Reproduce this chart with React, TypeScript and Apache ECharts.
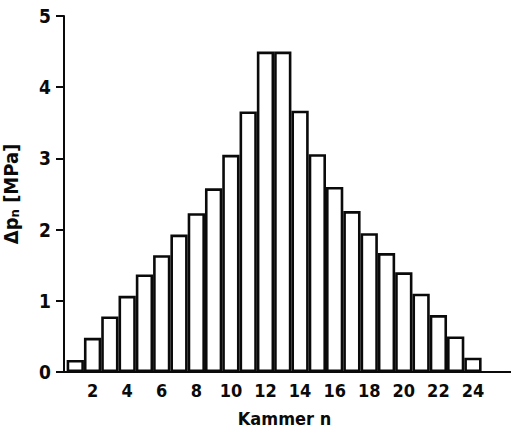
import React, { useEffect, useRef } from "react";
import * as echarts from "echarts";

const chambers = [1, 2, 3, 4, 5, 6, 7, 8, 9, 10, 11, 12, 13, 14, 15, 16, 17, 18, 19, 20, 21, 22, 23, 24];
const pressureDrop = [0.17, 0.48, 0.78, 1.07, 1.37, 1.64, 1.93, 2.23, 2.58, 3.05, 3.66, 4.5, 4.5, 3.67, 3.06, 2.6, 2.26, 1.95, 1.67, 1.4, 1.1, 0.8, 0.5, 0.2];
const yTicks = [0, 1, 2, 3, 4, 5];
const xTickLabels = [2, 4, 6, 8, 10, 12, 14, 16, 18, 20, 22, 24];
const xTitle = "Kammer n";
const yTitle = "{a|Δp}{b|n}{a| [MPa]}";

const FONT = "DejaVu Sans Condensed";
const INK = "#0a0a0a";

export default function App() {
  const ref = useRef<HTMLDivElement>(null);
  useEffect(() => {
    if (!ref.current) return;
    const chart = echarts.init(ref.current, null, { renderer: "svg" });
    chart.setOption({
      animation: false,
      backgroundColor: "#ffffff",
      grid: { left: 58, right: 0, top: 16, bottom: 55, containLabel: false, outerBoundsMode: "none" },
      xAxis: {
        type: "value",
        min: 0,
        max: 26.2,
        interval: 2,
        splitLine: { show: false },
        axisLine: { lineStyle: { color: INK, width: 2 } },
        axisTick: { show: false },
        axisLabel: {
          formatter: (v: number) => (xTickLabels.includes(v) ? String(v) : ""),
          color: INK,
          fontFamily: FONT,
          fontSize: 18,
          fontWeight: "bold",
          margin: 9,
          showMinLabel: true,
          showMaxLabel: true,
        },
        name: xTitle,
        nameLocation: "middle",
        nameGap: 37,
        nameTextStyle: { color: INK, fontFamily: FONT, fontSize: 18, lineHeight: 18, fontWeight: "bold" },
      },
      yAxis: {
        type: "value",
        min: yTicks[0],
        max: yTicks[yTicks.length - 1],
        interval: 1,
        offset: -6,
        splitLine: { show: false },
        axisLine: { show: true, onZero: false, lineStyle: { color: INK, width: 2 } },
        axisTick: { show: true, length: 8, lineStyle: { color: INK, width: 2 } },
        axisLabel: { color: INK, fontFamily: FONT, fontSize: 19, fontWeight: "bold", margin: 13 },
        name: yTitle,
        nameLocation: "middle",
        nameRotate: 90,
        nameGap: 43,
        nameTextStyle: {
          color: INK,
          fontFamily: FONT,
          fontSize: 20,
          lineHeight: 20,
          fontWeight: "bold",
          rich: {
            a: { fontFamily: FONT, fontSize: 20, lineHeight: 20, fontWeight: "bold", color: INK },
            b: { fontFamily: FONT, fontSize: 13, lineHeight: 20, fontWeight: "bold", color: INK, verticalAlign: "bottom" },
          },
        },
      },
      series: [
        {
          type: "bar",
          data: chambers.map((c, i) => [c, pressureDrop[i]]),
          barWidth: 17.3,
          itemStyle: { color: "#ffffff", borderColor: INK, borderWidth: 2.6 },
          silent: true,
        },
      ],
    });
    return () => chart.dispose();
  }, []);
  return <div ref={ref} style={{ width: 511, height: 427, position: "absolute", left: 0, top: 0 }} />;
}
